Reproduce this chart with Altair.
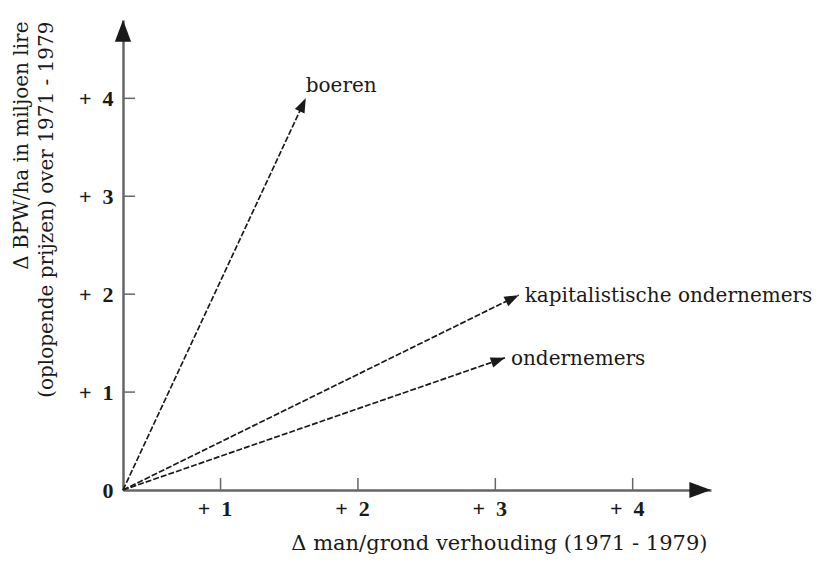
import math
import altair as alt
import pandas as pd

# ---- data ----
groups = ["boeren", "kapitalistische ondernemers", "ondernemers"]
delta_man_grond = [1.62, 3.17, 3.07]   # x of arrow tips
delta_bpw = [4.00, 1.99, 1.35]          # y of arrow tips
x_ticks = [1, 2, 3, 4]
y_ticks = [0, 1, 2, 3, 4]
x_title = "Δ man/grond verhouding (1971 - 1979)"
y_title = ["Δ BPW/ha in miljoen lire", "(oplopende prijzen) over 1971 - 1979"]

# ---- layout / style ----
X_MIN, X_MAX = 0.29, 4.57
Y_MIN, Y_MAX = 0.0, 4.8
W, H = 588, 470
FONT = "DejaVu Serif"
TICK_FONT = "Liberation Serif"
HEAD = "M0,0L-0.45,1.2L0.45,1.2Z"
AXIS_GRAY = "#666666"
INK = "#1a1a1a"
PLUS = "'+\u2002'"

px_x = W / (X_MAX - X_MIN)
px_y = H / (Y_MAX - Y_MIN)

vec = pd.DataFrame({"groep": groups, "x": delta_man_grond, "y": delta_bpw})
vec["x0"] = X_MIN
vec["y0"] = 0.0
vec["angle"] = [
    math.degrees(math.atan2((xv - X_MIN) * px_x, yv * px_y)) % 360
    for xv, yv in zip(delta_man_grond, delta_bpw)
]

xs = alt.Scale(domain=[X_MIN, X_MAX], nice=False, zero=False)
ys = alt.Scale(domain=[Y_MIN, Y_MAX], nice=False, zero=False)

x_axis = alt.Axis(
    values=x_ticks, labelExpr=PLUS + " + datum.value", ticks=False, grid=False,
    domainColor=AXIS_GRAY, domainWidth=2.5,
    labelFont=TICK_FONT, labelFontSize=22, labelFontWeight="bold", labelColor=INK,
    labelBaseline="middle", labelPadding=18, labelOffset=-6, labelFlush=False,
    title=x_title, titleFont=FONT, titleFontSize=21, titleFontWeight="normal",
    titleColor=INK, titleAlign="right", titleBaseline="alphabetic",
    titleX=584, titleY=59,
)
y_axis = alt.Axis(
    values=y_ticks,
    labelExpr="datum.value == 0 ? '0' : " + PLUS + " + datum.value",
    ticks=False, grid=False,
    domainColor=AXIS_GRAY, domainWidth=2.5,
    labelFont=TICK_FONT, labelFontSize=22, labelFontWeight="bold", labelColor=INK,
    labelPadding=10, labelFlush=False,
    title=y_title, titleFont=FONT, titleFontSize=20, titleFontWeight="normal",
    titleColor=INK, titleAngle=270, titleAlign="right", titleBaseline="middle",
    titleX=-102, titleY=1, titleLineHeight=25,
)


def X(field):
    return alt.X(field, scale=xs, axis=x_axis)


def Y(field):
    return alt.Y(field, scale=ys, axis=y_axis)


vectors = alt.Chart(vec).mark_rule(
    color=INK, strokeWidth=1.7, strokeDash=[6, 2]
).encode(
    x=X("x0:Q"),
    y=Y("y0:Q"),
    x2="x:Q",
    y2="y:Q",
)

heads = alt.Chart(vec).mark_point(
    shape=HEAD, filled=True, size=560, opacity=1, color=INK
).encode(
    x=X("x:Q"),
    y=Y("y:Q"),
    angle=alt.Angle("angle:Q", scale=None),
)

label_top = alt.Chart(vec).transform_filter(
    alt.datum.groep == "boeren"
).mark_text(
    font=FONT, fontSize=20, color=INK, align="left", baseline="middle", dy=-12
).encode(
    x=X("x:Q"),
    y=Y("y:Q"),
    text="groep:N",
)

label_right = alt.Chart(vec).transform_filter(
    alt.datum.groep != "boeren"
).mark_text(
    font=FONT, fontSize=20, color=INK, align="left", baseline="middle", dx=6, dy=1
).encode(
    x=X("x:Q"),
    y=Y("y:Q"),
    text="groep:N",
)

xtick_df = pd.DataFrame({"v": x_ticks})
xticks = alt.Chart(xtick_df).mark_rule(color=AXIS_GRAY, strokeWidth=1.5).encode(
    x=X("v:Q"),
    y=alt.value(H - 12),
    y2=alt.value(H),
)

ytick_df = pd.DataFrame({"v": [t for t in y_ticks if t > 0]})
yticks = alt.Chart(ytick_df).mark_rule(color=AXIS_GRAY, strokeWidth=1.5).encode(
    y=Y("v:Q"),
    x=alt.value(0),
    x2=alt.value(12),
)

axis_ends = pd.DataFrame({"x": [X_MAX, X_MIN], "y": [Y_MIN, Y_MAX], "angle": [90, 0]})
axis_heads = alt.Chart(axis_ends).mark_point(
    shape=HEAD, filled=True, size=1300, opacity=1, color=INK
).encode(
    x=X("x:Q"),
    y=Y("y:Q"),
    angle=alt.Angle("angle:Q", scale=None),
)

chart = alt.layer(
    vectors, xticks, yticks, heads, axis_heads, label_top, label_right
).properties(
    width=W,
    height=H,
    padding={"left": 115, "top": 12, "right": 105, "bottom": 65},
    autosize=alt.AutoSizeParams(type="none"),
    background="white",
).configure_view(stroke=None)

chart.save("out.html", embed_options={"renderer": "svg", "actions": False})
